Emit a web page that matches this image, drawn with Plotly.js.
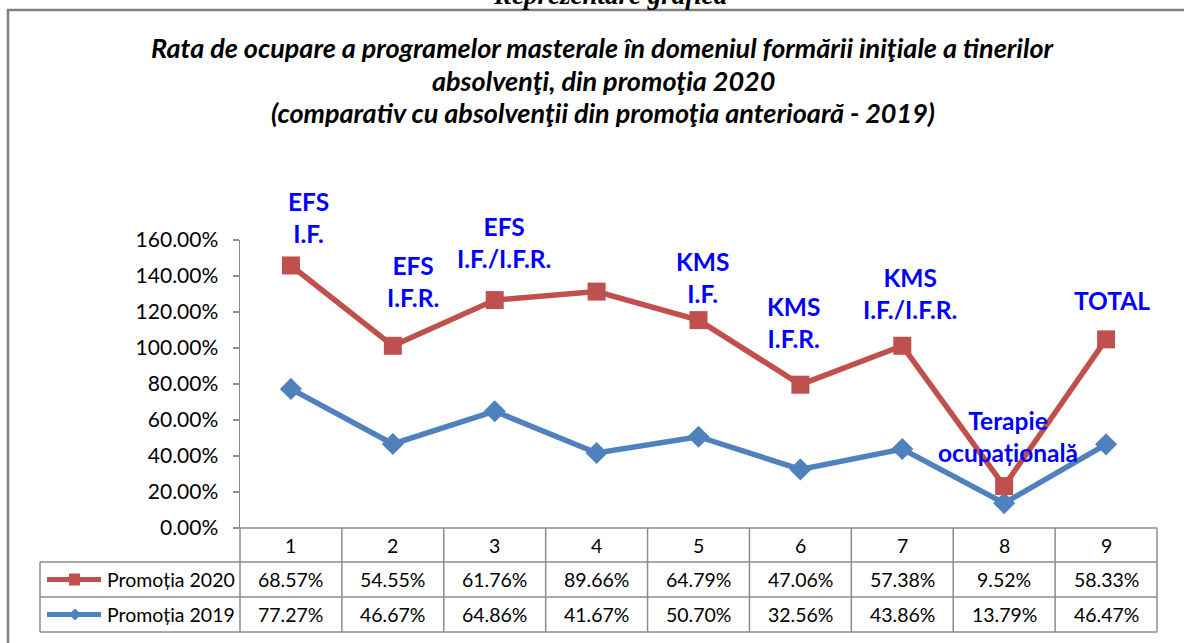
<!DOCTYPE html>
<html>
<head>
<meta charset="utf-8">
<script src="https://cdn.plot.ly/plotly-3.0.1.min.js"></script>
<style>
  html, body { margin: 0; padding: 0; background: #ffffff; }
  #chart { width: 1184px; height: 643px; }
</style>
</head>
<body>
<div id="chart"></div>
<script>
// ---------- data ----------
const categories = [1, 2, 3, 4, 5, 6, 7, 8, 9];
const seriesNames = ['Promoția 2020', 'Promoția 2019'];
const promotia2020 = [68.57, 54.55, 61.76, 89.66, 64.79, 47.06, 57.38, 9.52, 58.33];
const promotia2019 = [77.27, 46.67, 64.86, 41.67, 50.70, 32.56, 43.86, 13.79, 46.47];
const pointLabels = ['EFS<br>I.F.', 'EFS<br>I.F.R.', 'EFS<br>I.F./I.F.R.', '', 'KMS<br>I.F.', 'KMS<br>I.F.R.', 'KMS<br>I.F./I.F.R.', 'Terapie<br>ocupațională', 'TOTAL'];
const yTickVals = [0, 20, 40, 60, 80, 100, 120, 140, 160];
const titleLines = [
  'Rata de ocupare a programelor masterale în domeniul formării iniţiale a tinerilor',
  'absolvenţi, din promoţia 2020',
  '(comparativ cu absolvenţii din promoţia anterioară - 2019)'
];
const topCaption = 'Reprezentare grafică';

// ---------- layout helpers (pixel -> paper) ----------
const W = 1184, H = 643;
const PL = 240, PR = 1157, PT = 240, PB = 528;
const px = x => (x - PL) / (PR - PL);
const py = y => (PB - y) / (PB - PT);
const colW = (PR - PL) / categories.length;

const RED = '#C0504D', BLUE = '#4F81BD', GRID = '#8C8C8C';
const FONT = 'Lato, Carlito, Calibri, sans-serif';

// ---------- traces (stacked lines, as in the original) ----------
const traces = [
  {
    type: 'scatter', mode: 'lines+markers', name: seriesNames[1],
    x: categories, y: promotia2019, stackgroup: 'one', fill: 'none',
    line: { color: BLUE, width: 5.5 },
    marker: { symbol: 'diamond', size: 17, color: BLUE },
    cliponaxis: false
  },
  {
    type: 'scatter', mode: 'lines+markers', name: seriesNames[0],
    x: categories, y: promotia2020, stackgroup: 'one', fill: 'none',
    line: { color: RED, width: 5.5 },
    marker: { symbol: 'square', size: 18, color: RED },
    cliponaxis: false
  }
];

// ---------- table & frame shapes ----------
const shapes = [];
const ln = (x0, y0, x1, y1, color, width) => shapes.push({
  type: 'line', xref: 'paper', yref: 'paper',
  x0: px(x0), y0: py(y0), x1: px(x1), y1: py(y1),
  line: { color: color || GRID, width: width || 1.5 }
});
// outer frame
shapes.push({ type: 'rect', xref: 'paper', yref: 'paper',
  x0: px(8), y0: py(10), x1: px(1200), y1: py(700),
  line: { color: '#808080', width: 2.5 } });
// table grid
const rowY = [528, 562, 597, 632];
const tableLeft = 40;
ln(PL, rowY[0], PR, rowY[0]);
for (let r = 1; r < rowY.length; r++) ln(tableLeft, rowY[r], PR, rowY[r]);
for (let c = 0; c <= categories.length; c++) {
  const x = PL + c * colW;
  ln(x, rowY[0], x, rowY[3]);
}
ln(tableLeft, rowY[1], tableLeft, rowY[3]);
// legend keys in table
const keyRows = [(rowY[1] + rowY[2]) / 2, (rowY[2] + rowY[3]) / 2];
const keyColors = [RED, BLUE];
keyRows.forEach((yc, i) => {
  ln(47, yc, 101, yc, keyColors[i], 5);
  if (i === 0) {
    shapes.push({ type: 'rect', xref: 'paper', yref: 'paper',
      x0: px(69), x1: px(80), y0: py(yc - 6), y1: py(yc + 6),
      fillcolor: RED, line: { width: 0 } });
  } else {
    const cx = px(75), cy = py(yc), dx = 6 / (PR - PL), dy = 6 / (PB - PT);
    shapes.push({ type: 'path', xref: 'paper', yref: 'paper',
      path: `M ${cx - dx} ${cy} L ${cx} ${cy + dy} L ${cx + dx} ${cy} L ${cx} ${cy - dy} Z`,
      fillcolor: BLUE, line: { width: 0 } });
  }
});

// ---------- annotations ----------
const annotations = [];
// top caption, cut off by the page edge as in the original
annotations.push({ xref: 'paper', yref: 'paper', x: px(610), y: py(12),
  xanchor: 'center', yanchor: 'bottom', showarrow: false, text: '<b><i>' + topCaption + '</i></b>',
  font: { family: 'Liberation Serif, Times New Roman, serif', size: 27, color: '#000' } });
// title lines
const titleY = [48, 80, 112];
titleLines.forEach((t, i) => annotations.push({
  xref: 'paper', yref: 'paper', x: px(603), y: py(titleY[i]),
  xanchor: 'center', yanchor: 'middle', showarrow: false,
  text: '<b><i>' + t + '</i></b>',
  font: { family: FONT, size: 27, color: '#000' }
}));
// point labels (offset in px, vertical centre in px)
const labelPlace = [[18, 217], [20, 281], [9, 242], null, [4, 277], [-7, 322], [8, 293], [4, 436], [6, 300]];
pointLabels.forEach((t, i) => {
  if (!t || !labelPlace[i]) return;
  annotations.push({ xref: 'x', yref: 'paper', x: categories[i], xshift: labelPlace[i][0],
    y: py(labelPlace[i][1]), xanchor: 'center', yanchor: 'middle', showarrow: false,
    text: '<b>' + t + '</b>', font: { family: FONT, size: 24.5, color: '#0000FF' } });
});
// table header (category numbers)
categories.forEach((c, i) => annotations.push({ xref: 'x', yref: 'paper', x: c,
  y: py((rowY[0] + rowY[1]) / 2), xanchor: 'center', yanchor: 'middle', showarrow: false,
  text: String(c), font: { family: FONT, size: 19.5, color: '#000' } }));
// table values
const rowsData = [promotia2020, promotia2019];
rowsData.forEach((arr, r) => {
  annotations.push({ xref: 'paper', yref: 'paper', x: px(105), y: py(keyRows[r]),
    xanchor: 'left', yanchor: 'middle', showarrow: false, text: seriesNames[r],
    font: { family: FONT, size: 19.5, color: '#000' } });
  arr.forEach((v, i) => annotations.push({ xref: 'x', yref: 'paper', x: categories[i],
    y: py(keyRows[r]), xanchor: 'center', yanchor: 'middle', showarrow: false,
    text: v.toFixed(2) + '%', font: { family: FONT, size: 19.5, color: '#000' } }));
});

const layout = {
  width: W, height: H,
  margin: { l: PL, r: W - PR, t: PT, b: H - PB, pad: 0 },
  paper_bgcolor: '#ffffff', plot_bgcolor: '#ffffff',
  showlegend: false,
  xaxis: { range: [0.5, 9.5], showgrid: false, zeroline: false, showticklabels: false,
    showline: false, ticks: '', fixedrange: true },
  yaxis: { range: [0, 160], tickvals: yTickVals, ticktext: yTickVals.map(v => v.toFixed(2) + '%'),
    showgrid: false, zeroline: false, showline: true, linecolor: GRID, linewidth: 1.5,
    ticks: 'outside', ticklen: 6, tickcolor: GRID, tickwidth: 1.5,
    tickfont: { family: FONT, size: 21, color: '#000' }, ticklabelstandoff: 10, fixedrange: true },
  shapes: shapes,
  annotations: annotations
};

Plotly.newPlot('chart', traces, layout, { displayModeBar: false, staticPlot: true });
</script>
</body>
</html>
